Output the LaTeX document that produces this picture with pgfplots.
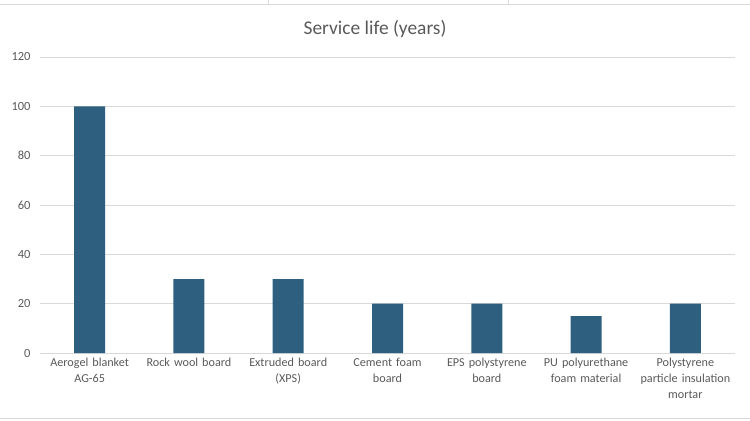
\documentclass[border=0pt]{standalone}
\usepackage{pgfplots}
\pgfplotsset{compat=1.18}
\usepackage{fontspec}
\setmainfont{Carlito}
\definecolor{barblue}{HTML}{2E5F7F}
\definecolor{gridgray}{HTML}{D9D9D9}
\definecolor{txtgray}{HTML}{595959}
\begin{document}
\begin{tikzpicture}[x=1bp,y=1bp]
\path[use as bounding box] (0,0) rectangle (750,420);
\draw[gridgray, line width=0.8bp] (0,416) -- (750,416);
\draw[gridgray, line width=0.8bp] (268,416) -- (268,420);
\draw[gridgray, line width=0.8bp] (508,416) -- (508,420);
\draw[gridgray, line width=0.8bp] (0,2) -- (750,2);
\node[txtgray, font=\fontsize{19.5}{22}\selectfont] at (375,391) {Service life (years)};
\begin{axis}[
  at={(40bp,67bp)}, anchor=south west,
  scale only axis, width=695bp, height=296bp,
  xmin=-0.5, xmax=6.5, ymin=0, ymax=120,
  ytick={0,20,...,120},
  xtick=data,
  xticklabels={{Aerogel blanket\\AG-65},{Rock wool board},{Extruded board\\(XPS)},{Cement foam\\board},{EPS polystyrene\\board},{PU polyurethane\\foam material},{Polystyrene\\particle insulation\\mortar}},
  xticklabel style={align=center, text width=98bp, font=\fontsize{12.2}{16}\selectfont, text=txtgray, yshift=-2bp},
  yticklabel style={font=\fontsize{12.5}{14}\selectfont, text=txtgray, xshift=-6bp},
  /pgf/number format/assume math mode=true,
  ymajorgrids, grid style={gridgray, line width=0.8bp},
  axis x line*=bottom,
  x axis line style={draw=gridgray, line width=0.8bp, -},
  y axis line style={draw=none},
  separate axis lines,
  major tick length=0pt,
  ybar, bar width=31bp,
  xtick style={draw=none}, ytick style={draw=none},
  ytick pos=left,
  clip=false,
]
\addplot[fill=barblue, draw=none] coordinates {(0,100) (1,30) (2,30) (3,20) (4,20) (5,15) (6,20)};
\end{axis}
\end{tikzpicture}
\end{document}
